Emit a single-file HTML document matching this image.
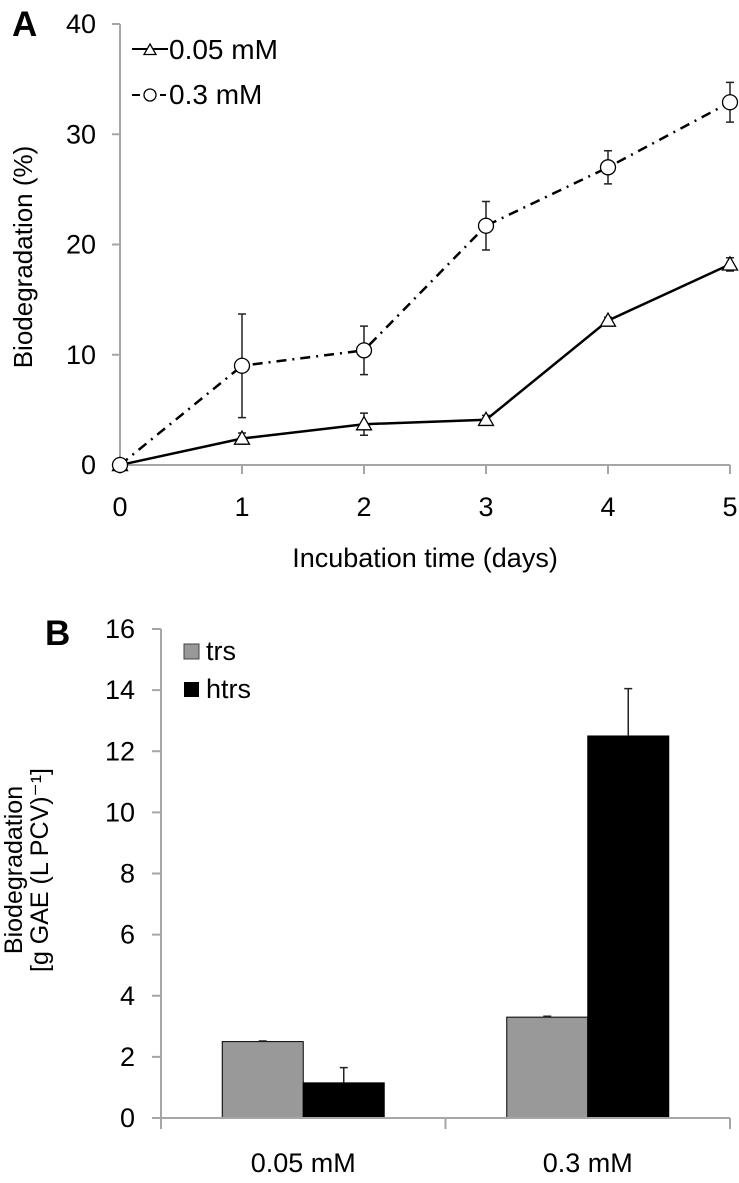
<!DOCTYPE html>
<html><head><meta charset="utf-8"><style>
body{margin:0;background:#fff;}
svg text{font-family:"Liberation Sans",Arial,sans-serif;fill:#000;}
</style></head><body>
<svg width="739" height="1178" viewBox="0 0 739 1178" xmlns="http://www.w3.org/2000/svg">
<g id="chartA"></g>
<g id="chartB"></g>
</svg>
<script>
// Chart A data
const daysA = [0,1,2,3,4,5];
const lowConc = [0,2.4,3.7,4.1,13.1,18.2];
const lowErr = [0,0.5,1.0,0.4,0.3,0.6];
const highConc = [0,9.0,10.4,21.7,27.0,32.9];
const highErr = [0,4.7,2.2,2.2,1.5,1.8];
const yTicksA = [0,10,20,30,40];
// Chart B data
const categoriesB = ["0.05 mM","0.3 mM"];
const trsVals = [2.5,3.3];
const trsErr = [0.02,0.03];
const htrsVals = [1.15,12.5];
const htrsErr = [0.5,1.55];
const yTicksB = [0,2,4,6,8,10,12,14,16];

const NS="http://www.w3.org/2000/svg";
function mk(parent,tag,attrs,text){const e=document.createElementNS(NS,tag);for(const k in attrs)e.setAttribute(k,attrs[k]);if(text!==undefined)e.textContent=text;parent.appendChild(e);return e;}
const FS=27;

// ---------- Chart A ----------
const A=document.getElementById('chartA');
const ax0=120, ax1=730, ay0=465, ay1=24;
const xA=d=>ax0+(d-0)/5*(ax1-ax0);
const yA=v=>ay0-v/40*(ay0-ay1);
let e;
e=mk(A,'text',{x:12,y:36,'font-size':35,'font-weight':'bold'},'A');


e=mk(A,'line',{x1:ax0,y1:ay1,x2:ax0,y2:ay0,stroke:'#a6a6a6','stroke-width':2});


e=mk(A,'line',{x1:ax0,y1:ay0,x2:ax1,y2:ay0,stroke:'#a6a6a6','stroke-width':2});


yTicksA.forEach(t=>{
  mk(A,'line',{x1:ax0-8,y1:yA(t),x2:ax0,y2:yA(t),stroke:'#a6a6a6','stroke-width':2});
  e=mk(A,'text',{x:ax0-24,y:yA(t)+9,'font-size':FS,'text-anchor':'end'},t);
  
  
});
daysA.forEach(d=>{
  mk(A,'line',{x1:xA(d),y1:ay0,x2:xA(d),y2:ay0+9,stroke:'#a6a6a6','stroke-width':2});
  e=mk(A,'text',{x:xA(d),y:516,'font-size':FS,'text-anchor':'middle'},d);
  
  
});
e=mk(A,'text',{x:425,y:567,'font-size':FS,'text-anchor':'middle'},'Incubation time (days)');


e=mk(A,'text',{x:0,y:0,'font-size':26,'text-anchor':'middle',transform:'translate(32,257) rotate(-90)'},'Biodegradation (%)');



function errBars(g,vals,errs,name){
  daysA.forEach((d,i)=>{if(errs[i]<=0)return;
    const x=xA(d),t=yA(vals[i]+errs[i]),b=yA(vals[i]-errs[i]);
    e=mk(g,'path',{d:`M${x},${t}V${b}M${x-4},${t}H${x+4}M${x-4},${b}H${x+4}`,stroke:'#222','stroke-width':1.5,fill:'none'});
    
    
  });
}
errBars(A,highConc,highErr,'error-bar-0.3mm');
errBars(A,lowConc,lowErr,'error-bar-0.05mm');
e=mk(A,'polyline',{points:daysA.map((d,i)=>xA(d)+','+yA(highConc[i])).join(' '),fill:'none',stroke:'#000','stroke-width':2.5,'stroke-dasharray':'10 6 2 6'});


e=mk(A,'polyline',{points:daysA.map((d,i)=>xA(d)+','+yA(lowConc[i])).join(' '),fill:'none',stroke:'#000','stroke-width':2.5});


function tri(g,x,y,s){return mk(g,'path',{d:`M${x},${y-s}L${x+s},${y+s*0.75}L${x-s},${y+s*0.75}Z`,fill:'#fff',stroke:'#000','stroke-width':1.3});}
daysA.forEach((d,i)=>{
  e=tri(A,xA(d),yA(lowConc[i]),7.5);
  
  
});
daysA.forEach((d,i)=>{
  e=mk(A,'circle',{cx:xA(d),cy:yA(highConc[i]),r:7.5,fill:'#fff',stroke:'#000','stroke-width':1.3});
  
  
});
// legend A
e=mk(A,'line',{x1:132,y1:49,x2:168,y2:49,stroke:'#000','stroke-width':2});


e=tri(A,150,50,6);


e=mk(A,'text',{x:169,y:59,'font-size':28},'0.05 mM');


e=mk(A,'path',{d:'M132,95H140M160,95H166',stroke:'#000','stroke-width':2});


e=mk(A,'circle',{cx:150,cy:95,r:6,fill:'#fff',stroke:'#000','stroke-width':1.3});


e=mk(A,'text',{x:169,y:104,'font-size':28},'0.3 mM');



// ---------- Chart B ----------
const B=document.getElementById('chartB');
const bx0=161,bx1=730,by0=1118,by1=629;
const yB=v=>by0-v/16*(by0-by1);
const catW=(bx1-bx0)/categoriesB.length;
const barW=81, gapB=(catW-2*barW)/2;
e=mk(B,'text',{x:45,y:645,'font-size':35,'font-weight':'bold'},'B');


e=mk(B,'line',{x1:bx0,y1:by1,x2:bx0,y2:by0,stroke:'#a6a6a6','stroke-width':2});


yTicksB.forEach(t=>{
  mk(B,'line',{x1:bx0-9,y1:yB(t),x2:bx0,y2:yB(t),stroke:'#a6a6a6','stroke-width':2});
  e=mk(B,'text',{x:bx0-26,y:yB(t)+9,'font-size':FS,'text-anchor':'end'},t);
  
  
});
for(let i=0;i<=categoriesB.length;i++){
  mk(B,'line',{x1:bx0+i*catW,y1:by0,x2:bx0+i*catW,y2:by0+11,stroke:'#a6a6a6','stroke-width':2});
}
categoriesB.forEach((c,i)=>{
  const gx=bx0+i*catW+gapB;
  let r=mk(B,'rect',{x:gx,y:yB(trsVals[i]),width:barW,height:by0-yB(trsVals[i]),fill:'#999',stroke:'#000','stroke-width':1});
  
  
  r=mk(B,'rect',{x:gx+barW,y:yB(htrsVals[i]),width:barW,height:by0-yB(htrsVals[i]),fill:'#000',stroke:'#000','stroke-width':1});
  
  
  [[trsVals,trsErr,gx+barW/2],[htrsVals,htrsErr,gx+barW*1.5]].forEach(([v,er,x])=>{
    const t=yB(v[i]+er[i]),b=yB(v[i]);
    e=mk(B,'path',{d:`M${x},${t}V${b}M${x-4},${t}H${x+4}`,stroke:'#222','stroke-width':1.5,fill:'none'});
    
    
  });
  e=mk(B,'text',{x:bx0+i*catW+catW/2,y:1172,'font-size':FS,'text-anchor':'middle'},c);
  
  
});
e=mk(B,'line',{x1:bx0,y1:by0,x2:bx1,y2:by0,stroke:'#a6a6a6','stroke-width':2});


e=mk(B,'text',{x:0,y:0,'font-size':25,'text-anchor':'middle',transform:'translate(22,870) rotate(-90)'},'Biodegradation');


e=mk(B,'text',{x:0,y:0,'font-size':25,'text-anchor':'middle',transform:'translate(48,870) rotate(-90)'},'[g GAE (L PCV)\u207B\u00B9]');


e=mk(B,'rect',{x:184,y:644,width:15,height:15,fill:'#999',stroke:'#444','stroke-width':1});


e=mk(B,'text',{x:206,y:660,'font-size':FS},'trs');


e=mk(B,'rect',{x:184,y:682,width:15,height:15,fill:'#000'});


e=mk(B,'text',{x:206,y:698,'font-size':FS},'htrs');


</script>
</body></html>
